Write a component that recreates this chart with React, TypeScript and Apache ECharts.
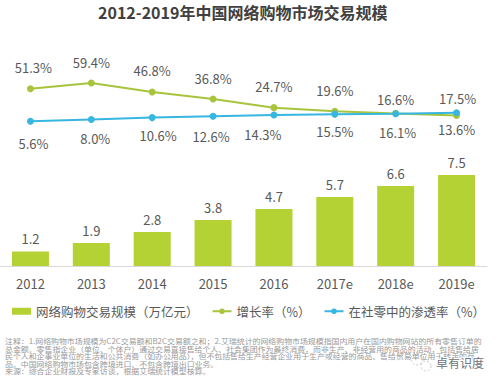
import React, { useEffect, useRef } from 'react';
import * as echarts from 'echarts';

const titleText = '2012-2019年中国网络购物市场交易规模';
const years = ['2012', '2013', '2014', '2015', '2016', '2017e', '2018e', '2019e'];
const tradeScale = [1.2, 1.9, 2.8, 3.8, 4.7, 5.7, 6.6, 7.5];
const growthRate = [51.3, 59.4, 46.8, 36.8, 24.7, 19.6, 16.6, 13.6];
const penetrationRate = [5.6, 8.0, 10.6, 12.6, 14.3, 15.5, 16.1, 17.5];
const legendNames = ['网络购物交易规模（万亿元）', '增长率（%）', '在社零中的渗透率（%）'];
const noteLines = [
  '注释：1.网络购物市场规模为C2C交易额和B2C交易额之和；2.艾瑞统计的网络购物市场规模指国内用户在国内购物网站的所有零售订单的',
  '总金额。零售指企业（单位、个体户）通过交易直接售给个人、社会集团作为最终消费，而非生产、非经营用的商品的活动，包括售给居',
  '民个人和企事业单位的生活和公共消费（如办公用品），但不包括售给生产经营企业用于生产或经营的商品、售给贸易单位用于转卖的商',
  '品。中国网络购物市场包含跨境进口、不包含跨境出口业务。',
  '来源：综合企业财报及专家访谈，根据艾瑞统计模型核算。',
];
const watermarkText = '卓有识度';

const FONT = '"Noto Sans CJK SC", "Noto Sans", sans-serif';
const BAR_COLOR = '#b4d233';
const GROWTH_COLOR = '#a7c43c';
const PEN_COLOR = '#36b6e0';
const LABEL_COLOR = '#595959';

// label placement tweaks (index -> overrides)
const growthLabelTweaks: Record<number, any> = {
  0: { offset: [3, 0] },
  6: { distance: 4 },
  7: { position: 'bottom', distance: 4 },
};
const penLabelTweaks: Record<number, any> = {
  0: { offset: [3, 3] },
  1: { offset: [4, 0] },
  2: { offset: [6, -1] },
  3: { offset: [-2, 1] },
  4: { offset: [-11, 0] },
  5: { offset: [0, -2] },
  6: { offset: [2, 0] },
  7: { position: 'top', distance: 4, offset: [1, 0] },
};

export default function App() {
  const ref = useRef<HTMLDivElement>(null);
  useEffect(() => {
    if (!ref.current) return;
    const chart = echarts.init(ref.current, undefined, { renderer: 'svg' });
    const labelText = { fontSize: 13, color: LABEL_COLOR, fontFamily: FONT };
    const option: any = {
      animation: false,
      backgroundColor: '#fff',
      textStyle: { fontFamily: FONT },
      title: {
        text: titleText,
        left: 98,
        top: 4,
        padding: 0,
        textStyle: { fontSize: 16, fontWeight: 'bold', color: '#404040', fontFamily: FONT },
      },
      legend: {
        left: 12,
        top: 305,
        padding: 0,
        itemGap: 13,
        itemWidth: 19,
        itemHeight: 7,
        textStyle: { fontSize: 12.5, color: LABEL_COLOR, fontFamily: FONT },
        data: [
          { name: legendNames[0], icon: 'rect' },
          { name: legendNames[1] },
          { name: legendNames[2] },
        ],
      },
      grid: { left: 0, right: 12, top: 60, bottom: 122, containLabel: false },
      xAxis: {
        type: 'category',
        data: years,
        axisLine: { lineStyle: { color: '#d9d9d9', width: 1 } },
        axisTick: { show: false },
        axisLabel: { fontSize: 13, color: LABEL_COLOR, margin: 11, fontFamily: FONT },
      },
      yAxis: [
        { type: 'value', min: 0, max: 17, show: false, splitLine: { show: false } },
        { type: 'value', min: -199, max: 92, show: false, splitLine: { show: false } },
      ],
      series: [
        {
          name: legendNames[0],
          type: 'bar',
          yAxisIndex: 0,
          barWidth: 37,
          data: tradeScale,
          itemStyle: { color: BAR_COLOR },
          label: { show: true, position: 'top', distance: 6, ...labelText },
        },
        {
          name: legendNames[1],
          type: 'line',
          yAxisIndex: 1,
          symbol: 'circle',
          symbolSize: 7,
          color: GROWTH_COLOR,
          lineStyle: { width: 2, color: GROWTH_COLOR },
          itemStyle: { color: GROWTH_COLOR },
          label: { show: true, position: 'top', distance: 11, formatter: '{c}%', ...labelText },
          data: growthRate.map((v, i) => ({
            value: v,
            label: growthLabelTweaks[i] ? { ...growthLabelTweaks[i] } : undefined,
          })),
        },
        {
          name: legendNames[2],
          type: 'line',
          yAxisIndex: 1,
          symbol: 'circle',
          symbolSize: 7,
          color: PEN_COLOR,
          lineStyle: { width: 2, color: PEN_COLOR },
          itemStyle: { color: PEN_COLOR },
          label: {
            show: true,
            position: 'bottom',
            distance: 9,
            formatter: (p: any) => Number(p.value).toFixed(1) + '%',
            ...labelText,
          },
          data: penetrationRate.map((v, i) => ({
            value: v,
            label: penLabelTweaks[i] ? { ...penLabelTweaks[i] } : undefined,
          })),
        },
      ],
      graphic: [
        ...noteLines.map((t, i) => ({
          type: 'text',
          x: 5,
          y: 341 + i * 7.5,
          scaleX: 1.1,
          silent: true,
          style: {
            text: t,
            fontSize: 7.2,
            fontFamily: FONT,
            fill: '#999999',
            verticalAlign: 'middle',
          },
        })),
        {
          type: 'circle',
          shape: { cx: 417, cy: 359, r: 6 },
          style: { fill: 'none', stroke: '#b9b9b9', lineWidth: 0.8, lineDash: [2, 2] },
          silent: true,
        },
        {
          type: 'circle',
          shape: { cx: 426, cy: 366, r: 5 },
          style: { fill: 'none', stroke: '#b9b9b9', lineWidth: 0.8, lineDash: [2, 2] },
          silent: true,
        },
        {
          type: 'text',
          x: 436,
          y: 362,
          silent: true,
          style: {
            text: watermarkText,
            fontSize: 12,
            fontFamily: FONT,
            fill: '#6e747c',
            stroke: '#ffffff',
            lineWidth: 2,
            verticalAlign: 'middle',
          },
        },
      ],
    };
    chart.setOption(option);
    return () => chart.dispose();
  }, []);
  return (
    <div
      ref={ref}
      style={{ position: 'absolute', left: 0, top: 0, width: 499, height: 388, background: '#fff' }}
    />
  );
}
